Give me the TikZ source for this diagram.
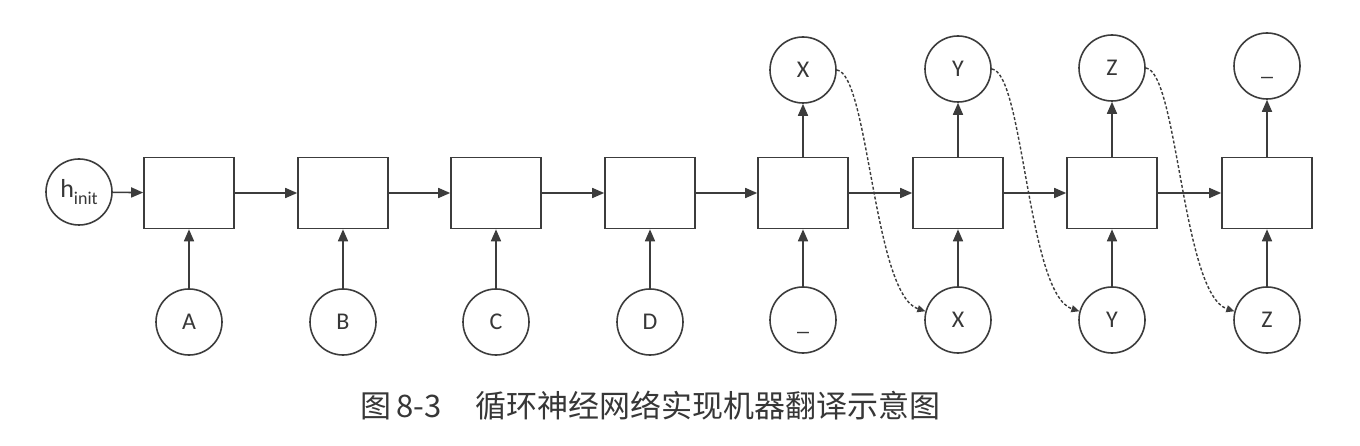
\documentclass[tikz,border=0pt]{standalone}
\usepackage{fontspec}
\setmainfont{Carlito}
\newfontfamily\cjk{Noto Sans CJK SC}
\usetikzlibrary{arrows.meta}
\definecolor{lc}{RGB}{60,60,60}
\definecolor{tc}{RGB}{55,55,55}
\newcommand{\blank}{\smash{\raisebox{-10pt}{\_}}}
\tikzset{
  cell/.style={draw=lc, line width=1.6pt, minimum width=90pt, minimum height=71pt, inner sep=0pt},
  tok/.style={draw=lc, line width=1.6pt, circle, minimum size=66pt, inner sep=0pt, text=tc,
    font=\fontsize{24}{24}\selectfont},
  flow/.style={draw=lc, line width=1.6pt, -{Triangle[length=12pt,width=10pt]}},
  feed/.style={draw=lc, line width=1.4pt, dash pattern=on 3pt off 2pt, -{Triangle[length=8pt,width=7pt]}}
}
\begin{document}
\begin{tikzpicture}[x=1pt,y=-1pt]
\useasboundingbox (0,0) rectangle (1360,446);
\fill[white] (0,0) rectangle (1360,446);
% h_init
\node[tok] (h) at (79,192) {\fontsize{26}{26}\selectfont h\raisebox{-0.28em}{\fontsize{18}{18}\selectfont init}};
% cells
\foreach \i/\x in {1/189,2/343,3/496,4/650,5/803,6/958,7/1112,8/1267}
  \node[cell] (b\i) at (\x,193) {};
% inputs
\node[tok] (i1) at (189,322) {A};
\node[tok] (i2) at (343,322) {B};
\node[tok] (i3) at (496,322) {C};
\node[tok] (i4) at (650,322) {D};
\node[tok] (i5) at (803,320) {\blank};
\node[tok] (i6) at (958,320) {X};
\node[tok] (i7) at (1112,320) {Y};
\node[tok] (i8) at (1267,320) {Z};
% outputs
\node[tok] (o5) at (803,70) {X};
\node[tok] (o6) at (958,69) {Y};
\node[tok] (o7) at (1112,68) {Z};
\node[tok] (o8) at (1267,66) {\blank};
% horizontal flow
\draw[flow] (h) -- (b1);
\foreach \a/\b in {1/2,2/3,3/4,4/5,5/6,6/7,7/8}
  \draw[flow] (b\a) -- (b\b);
% vertical inputs
\foreach \i in {1,...,8}
  \draw[flow] (i\i) -- (b\i);
% vertical outputs
\foreach \i in {5,...,8}
  \draw[flow] (b\i) -- (o\i);
% feedback dashed curves
\foreach \a/\b in {5/6,6/7,7/8}
  \draw[feed] (o\a.east) .. controls +(32,4) and +(-52,-17) .. (i\b.165);
% caption
\node[anchor=west, text=tc, font=\cjk\fontsize{31}{31}\selectfont, inner sep=0pt] (cap) at (360,406)
  {图\,8-3\hspace{34pt}循环神经网络实现机器翻译示意图};
\end{tikzpicture}
\end{document}
